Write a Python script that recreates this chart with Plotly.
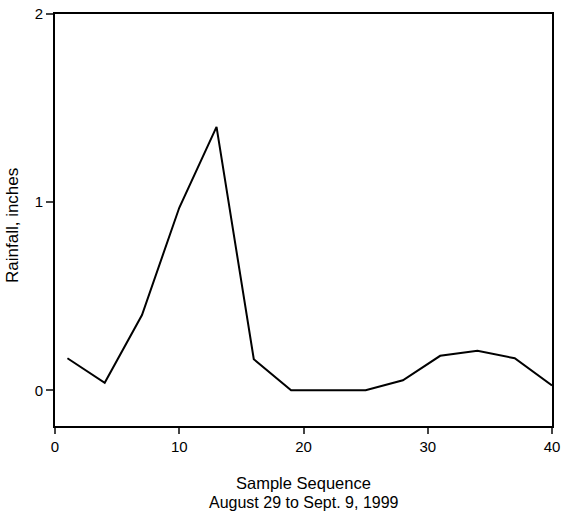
import plotly.graph_objects as go

sample = [1, 4, 7, 10, 13, 16, 19, 22, 25, 28, 31, 34, 37, 40]
rainfall = [0.17, 0.04, 0.40, 0.97, 1.40, 0.165, 0.0, 0.0, 0.0, 0.053, 0.183, 0.21, 0.17, 0.025]

x_ticks = [0, 10, 20, 30, 40]
y_ticks = [0, 1, 2]
x_title_1 = "Sample Sequence"
x_title_2 = "August 29 to Sept. 9, 1999"
y_title = "Rainfall, inches"

fig = go.Figure()
fig.add_trace(go.Scatter(x=sample, y=rainfall, mode="lines",
                         line=dict(color="black", width=2), showlegend=False))

family = "Liberation Sans, Arial, sans-serif"

fig.update_layout(
    width=562, height=519,
    margin=dict(l=55, r=10, t=14, b=93),
    paper_bgcolor="white", plot_bgcolor="white",
    font=dict(family=family, size=15, color="black"),
    xaxis=dict(range=[0, 40], tickvals=x_ticks, ticks="outside", ticklen=6,
               tickwidth=2, showline=True, linewidth=2, linecolor="black",
               mirror=True, showgrid=False, zeroline=False, automargin=False,
               tickfont=dict(size=15)),
    yaxis=dict(range=[-0.19, 2], tickvals=y_ticks, ticks="outside", ticklen=7,
               tickwidth=2, showline=True, linewidth=2, linecolor="black",
               mirror=True, showgrid=False, zeroline=False, automargin=False,
               tickfont=dict(size=15)),
)

fig.add_annotation(text=x_title_1, xref="paper", yref="paper", x=0.5, y=0,
                   yshift=-57, showarrow=False, xanchor="center", yanchor="middle",
                   font=dict(family=family, size=16.5, color="black"))
fig.add_annotation(text=x_title_2, xref="paper", yref="paper", x=0.5, y=0,
                   yshift=-76, showarrow=False, xanchor="center", yanchor="middle",
                   font=dict(family=family, size=16, color="black"))
fig.add_annotation(text=y_title, xref="paper", yref="paper", x=0, y=0.5,
                   xshift=-43, yshift=-6, textangle=-90, showarrow=False,
                   xanchor="center", yanchor="middle",
                   font=dict(family=family, size=17, color="black"))

fig.write_html("out.html")
